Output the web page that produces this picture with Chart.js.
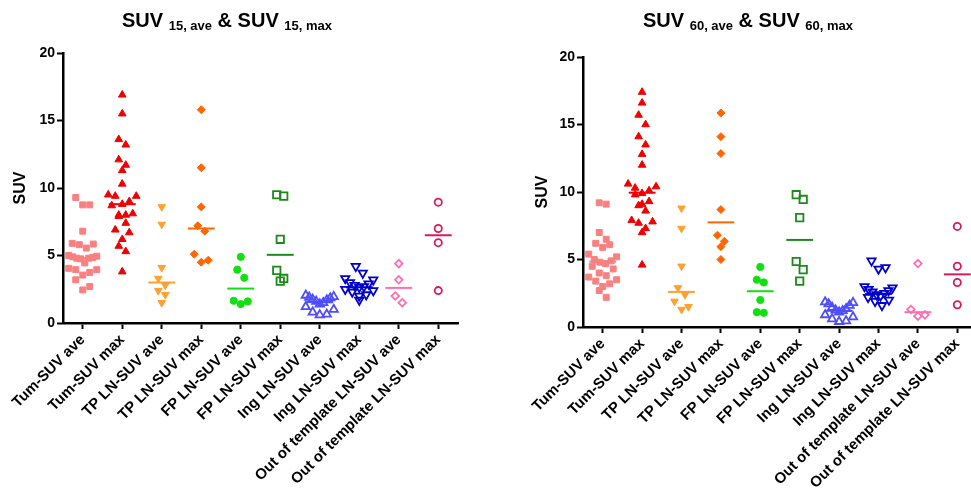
<!DOCTYPE html>
<html>
<head>
<meta charset="utf-8">
<script src="https://cdn.jsdelivr.net/npm/chart.js@4/dist/chart.umd.min.js"></script>
<style>
  html, body { margin: 0; padding: 0; background: #fff; overflow: hidden; }
  #wrap { position: relative; width: 971px; height: 492px; overflow: hidden; }
  canvas { position: absolute; top: 0; }
  #chart15 { left: 0; }
  #chart60 { left: 490px; }
</style>
</head>
<body>
<div id="wrap">
  <canvas id="chart15" width="490" height="492"></canvas>
  <canvas id="chart60" width="500" height="492"></canvas>
</div>
<script>
const categories = [
  "Tum-SUV ave", "Tum-SUV max",
  "TP LN-SUV ave", "TP LN-SUV max",
  "FP LN-SUV ave", "FP LN-SUV max",
  "Ing LN-SUV ave", "Ing LN-SUV max",
  "Out of template LN-SUV ave", "Out of template LN-SUV max"
];

const yTicks = [0, 5, 10, 15, 20];

// SUV at 15 min, one list per category
const values15 = [
  [9.3, 8.75, 8.75, 6.8, 5.9, 5.85, 5.8, 5.55, 5.0, 4.95, 4.9, 4.85, 4.8, 4.8, 4.75, 4.45, 4.05, 3.95, 3.95, 3.75, 3.55, 3.2, 2.7, 2.45],
  [16.9, 15.5, 13.6, 13.2, 12.1, 11.7, 11.3, 10.3, 9.5, 9.4, 9.4, 9.0, 8.8, 8.7, 8.1, 8.0, 8.0, 7.9, 7.4, 6.9, 6.7, 6.2, 5.7, 5.3, 3.8],
  [8.6, 7.3, 4.1, 3.3, 2.8, 2.4, 2.1, 1.5],
  [15.8, 11.5, 8.6, 7.2, 6.8, 5.1, 4.65, 4.5],
  [4.9, 3.95, 3.35, 1.65, 1.6, 1.4],
  [9.5, 9.4, 6.2, 3.9, 3.3, 3.1],
  [2.05, 1.95, 1.9, 1.85, 1.75, 1.7, 1.6, 1.5, 1.4, 1.2, 1.0, 0.8, 0.65, 0.6],
  [4.2, 3.7, 3.3, 3.2, 3.0, 2.9, 2.8, 2.7, 2.65, 2.5, 2.4, 2.3, 2.1, 2.0, 1.7],
  [4.4, 3.2, 2.0, 1.5],
  [8.95, 7.0, 5.95, 2.4]
];
const medians15 = [4.8, 8.8, 3.0, 7.0, 2.55, 5.05, 1.55, 2.65, 2.6, 6.5];

// SUV at 60 min
const values60 = [
  [9.2, 9.1, 7.0, 6.5, 6.2, 6.1, 5.9, 5.4, 5.2, 5.0, 4.9, 4.8, 4.7, 4.5, 4.3, 4.0, 3.8, 3.7, 3.5, 3.4, 3.2, 3.0, 2.7, 2.2],
  [17.4, 16.6, 15.7, 15.0, 14.1, 13.5, 12.8, 12.0, 10.6, 10.4, 10.3, 10.1, 9.9, 9.8, 9.3, 9.1, 9.0, 8.6, 7.9, 7.8, 7.7, 7.3, 7.0, 4.6],
  [8.8, 7.3, 4.5, 2.9, 2.4, 1.9, 1.5, 1.3],
  [15.85, 14.1, 12.85, 8.7, 6.8, 6.35, 5.95, 5.0],
  [4.45, 3.5, 3.3, 2.0, 1.1, 1.05],
  [9.8, 9.45, 8.1, 4.85, 4.25, 3.4],
  [1.85, 1.8, 1.7, 1.6, 1.45, 1.35, 1.25, 1.2, 1.1, 0.9, 0.75, 0.6, 0.45, 0.4],
  [4.9, 4.4, 4.3, 3.0, 2.9, 2.8, 2.7, 2.6, 2.5, 2.4, 2.3, 2.2, 2.0, 1.9, 1.6],
  [4.7, 1.3, 0.9, 0.8],
  [7.45, 4.5, 3.3, 1.65]
];
const medians60 = [4.85, 9.95, 2.6, 7.75, 2.65, 6.45, 1.2, 2.45, 1.1, 3.9];

const markers = [
  { color: "#F98080", style: "rect",     radius: 4.2, open: false },
  { color: "#F00000", style: "triangle", radius: 4.4, open: false },
  { color: "#FFA030", style: "triangle", radius: 4.4, open: false, rotation: 180 },
  { color: "#FF6600", style: "rectRot",  radius: 4.0, open: false },
  { color: "#10E010", style: "circle",   radius: 3.6, open: false },
  { color: "#1A8A1A", style: "rect",     radius: 5.2, open: true },
  { color: "#4D4DFF", style: "triangle", radius: 4.8, open: true },
  { color: "#0000CC", style: "triangle", radius: 4.8, open: true, rotation: 180 },
  { color: "#FF6FB0", style: "rectRot",  radius: 3.8, open: true },
  { color: "#D81B5A", style: "circle",   radius: 3.6, open: true }
];

const FONT = "'Liberation Sans', Arial, sans-serif";
const PX_X = 39.5;   // px per category
const BIN = 0.75;    // values closer than this share a row
const GAP = 7;       // px between points in a row
const MAXW = 28;     // widest row, px

// column scatter: points of similar value are laid side by side,
// highest to the outside, alternating left / right
const swarm = (values, center) => {
  const sorted = values.slice().sort((a, b) => b - a);
  const pts = [];
  let i = 0;
  while (i < sorted.length) {
    const row = [sorted[i]];
    let j = i + 1;
    while (j < sorted.length && sorted[i] - sorted[j] <= BIN) {
      row.push(sorted[j]);
      j++;
    }
    const n = row.length;
    const step = n > 1 ? Math.min(GAP, MAXW / (n - 1)) : 0;
    let lo = 0, hi = n - 1;
    row.forEach((v, k) => {
      const slot = k % 2 === 0 ? lo++ : hi--;
      pts.push({ x: center + (slot - (n - 1) / 2) * step / PX_X, y: v });
    });
    i = j;
  }
  return pts;
};

//========================================================================
const titlePlugin = (parts, centerX, baseY) => ({
  id: "subTitle",
  afterDraw: chart => {
    const ctx = chart.ctx;
    ctx.save();
    ctx.fillStyle = "#000";
    ctx.textAlign = "left";
    ctx.textBaseline = "alphabetic";
    const widths = parts.map(p => {
      ctx.font = `bold ${p.size}px ${FONT}`;
      return ctx.measureText(p.text).width;
    });
    let x = centerX - widths.reduce((a, b) => a + b, 0) / 2;
    parts.forEach((p, i) => {
      ctx.font = `bold ${p.size}px ${FONT}`;
      ctx.fillText(p.text, x, p.sub ? baseY + 3 : baseY);
      x += widths[i];
    });
    ctx.restore();
  }
});

//========================================================================
const buildChart = (canvasId, values, medians, minute, dims) => {
  const datasets = [];
  values.forEach((vals, i) => {
    const mk = markers[i];
    datasets.push({
      type: "scatter",
      data: swarm(vals, i),
      pointStyle: mk.style,
      pointRadius: mk.radius,
      pointRotation: mk.rotation || 0,
      pointBackgroundColor: mk.open ? "rgba(255,255,255,0)" : mk.color,
      pointBorderColor: mk.color,
      pointBorderWidth: mk.open ? 1.8 : 1,
      clip: false
    });
  });
  medians.forEach((m, i) => {
    datasets.push({
      type: "line",
      data: [{ x: i - 0.34, y: m }, { x: i + 0.34, y: m }],
      borderColor: markers[i].color,
      borderWidth: 2,
      pointRadius: 0,
      clip: false
    });
  });

  const parts = [
    { text: "SUV ", size: 20 },
    { text: `${minute}, ave`, size: 13, sub: true },
    { text: " & SUV ", size: 20 },
    { text: `${minute}, max`, size: 13, sub: true }
  ];

  return new Chart(document.getElementById(canvasId), {
    type: "scatter",
    data: { datasets },
    plugins: [titlePlugin(parts, dims.titleX, 27)],
    options: {
      responsive: false,
      animation: false,
      layout: { padding: { top: dims.padTop, left: dims.padLeft, right: dims.padRight, bottom: 0 } },
      plugins: { legend: { display: false }, tooltip: { enabled: false } },
      scales: {
        x: {
          type: "linear",
          min: -0.5,
          max: categories.length - 0.5,
          afterBuildTicks: s => { s.ticks = categories.map((c, i) => ({ value: i })); },
          afterFit: s => { s.height = dims.xHeight; },
          ticks: {
            callback: v => categories[v],
            autoSkip: false,
            minRotation: 45,
            maxRotation: 45,
            padding: 2,
            color: "#000",
            font: { family: FONT, size: 15, weight: "bold" }
          },
          grid: { drawOnChartArea: false, tickLength: 6, tickWidth: 2, tickColor: "#000" },
          border: { color: "#000", width: 2.5 }
        },
        y: {
          min: 0,
          max: 20,
          afterBuildTicks: s => { s.ticks = yTicks.map(v => ({ value: v })); },
          afterFit: s => { s.width = dims.yWidth; },
          ticks: {
            padding: 2,
            color: "#000",
            font: { family: FONT, size: 14, weight: "bold" }
          },
          grid: { drawOnChartArea: false, tickLength: 6, tickWidth: 2, tickColor: "#000" },
          border: { color: "#000", width: 2.5 },
          title: {
            display: true,
            text: "SUV",
            color: "#000",
            padding: { top: 11, bottom: 0 },
            font: { family: FONT, size: 16, weight: "bold" }
          }
        }
      }
    }
  });
};

buildChart("chart15", values15, medians15, 15,
  { padTop: 53, padLeft: 0, padRight: 32, yWidth: 63, xHeight: 169, titleX: 227 });
buildChart("chart60", values60, medians60, 60,
  { padTop: 57, padLeft: 32, padRight: 13, yWidth: 61, xHeight: 165, titleX: 258 });
</script>
</body>
</html>
